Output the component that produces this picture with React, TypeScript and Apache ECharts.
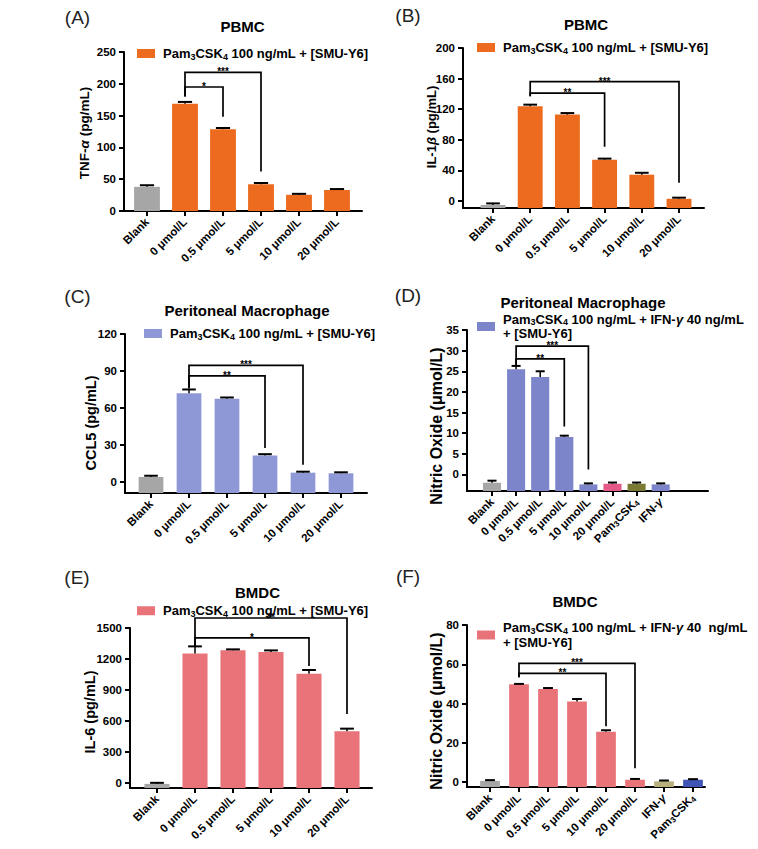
import React, { useEffect, useRef } from 'react';
import * as echarts from 'echarts';

const FONT = "'Liberation Sans', Arial, Helvetica, sans-serif";

// ---------------- data ----------------
const categoriesA = ['Blank', '0 μmol/L', '0.5 μmol/L', '5 μmol/L', '10 μmol/L', '20 μmol/L'];
const tnfAlpha = [38, 168.5, 128.5, 42, 25.5, 33];
const tnfAlphaSem = [2.5, 3, 2, 2, 1.5, 1.5];
const yTicksA = [0, 50, 100, 150, 200, 250];
// [fromIndex, toIndex, topValue, leftEndValue, rightEndValue]
const bracketsA = [[1, 3, 218, 180, 62], [1, 2, 195, 180, 148]];
const bracketLabelsA = ['***', '*'];

const categoriesB = ['Blank', '0 μmol/L', '0.5 μmol/L', '5 μmol/L', '10 μmol/L', '20 μmol/L'];
const il1Beta = [-5, 124, 113, 54, 34.5, 3];
const il1BetaSem = [2, 2, 2, 1.5, 2.5, 1.5];
const yTicksB = [0, 40, 80, 120, 160, 200];
const bracketsB = [[1, 5, 156, 137, 24], [1, 3, 141, 137, 71]];
const bracketLabelsB = ['***', '**'];

const categoriesC = ['Blank', '0 μmol/L', '0.5 μmol/L', '5 μmol/L', '10 μmol/L', '20 μmol/L'];
const ccl5 = [4, 72, 67.5, 21.5, 7.5, 7];
const ccl5Sem = [1, 3, 1, 1, 0.8, 0.8];
const yTicksC = [0, 30, 60, 90, 120];
const bracketsC = [[1, 4, 94.5, 76, 14], [1, 3, 86, 76, 27.5]];
const bracketLabelsC = ['***', '**'];

const categoriesD = ['Blank', '0 μmol/L', '0.5 μmol/L', '5 μmol/L', '10 μmol/L', '20 μmol/L', 'Pam3CSK4', 'IFN-γ'];
const nitricOxideMacrophage = [-2, 25.5, 23.6, 9.1, -2.4, -2.25, -2.25, -2.4];
const nitricOxideMacrophageSem = [0.5, 0.8, 1.4, 0.3, 0.25, 0.3, 0.3, 0.25];
const yTicksD = [0, 5, 10, 15, 20, 25, 30, 35];
const bracketsD = [[1, 4, 31.1, 26.1, 1.2], [1, 3, 28, 26.1, 11.6]];
const bracketLabelsD = ['***', '**'];

const categoriesE = ['Blank', '0 μmol/L', '0.5 μmol/L', '5 μmol/L', '10 μmol/L', '20 μmol/L'];
const il6 = [-10, 1252, 1285, 1268, 1058, 500];
const il6Sem = [10, 70, 8, 15, 35, 25];
const yTicksE = [0, 300, 600, 900, 1200, 1500];
const bracketsE = [[1, 5, 1597, 1317, 668], [1, 4, 1404, 1317, 1133]];
const bracketLabelsE = ['**', '*'];

const categoriesF = ['Blank', '0 μmol/L', '0.5 μmol/L', '5 μmol/L', '10 μmol/L', '20 μmol/L', 'IFN-γ', 'Pam3CSK4'];
const nitricOxideBmdc = [0.6, 49.8, 47.4, 41, 25.6, 1.2, 0.4, 1.2];
const nitricOxideBmdcSem = [0.4, 0.2, 0.5, 1.3, 0.8, 0.4, 0.4, 0.3];
const yTicksF = [0, 20, 40, 60, 80];
const bracketsF = [[1, 5, 60.5, 53.4, 7], [1, 4, 55.4, 53.4, 28.4]];
const bracketLabelsF = ['***', '**'];

// ---------------- styles / layout ----------------
const GRAY = '#a6a6a6';
const ORANGE = '#ec6b1f';
const LIGHTBLUE = '#8e98d6';
const BLUE = '#7d85ca';
const PINK = '#e4588a';
const OLIVE = '#7a7a35';
const RED = '#e8747a';
const KHAKI = '#b8b07c';
const DEEPBLUE = '#3f55b5';

const LEGEND_SHORT = 'Pam{s|3}CSK{s|4} 100 ng/mL + [SMU-Y6]';

const PANELS = [
  {
    id: 'A', label: '(A)', labelPos: [77.5, 17.5], title: 'PBMC', titlePos: [242.5, 26.5],
    yName: 'TNF-{i|α} (pg/mL)', yNamePos: [84, 133], yNameSize: 13.5,
    cats: categoriesA, values: tnfAlpha, sem: tnfAlphaSem, yTicks: yTicksA, yMin: 0,
    brackets: bracketsA, bracketLabels: bracketLabelsA,
    left: 124, right: 362, top: 52, bottom: 211, first: 147, step: 38, barFrac: 0.68, capFrac: 0.55,
    colors: [GRAY, ORANGE, ORANGE, ORANGE, ORANGE, ORANGE], legendColor: ORANGE,
    legendText: LEGEND_SHORT, legendPos: [137, 45.5],
  },
  {
    id: 'B', label: '(B)', labelPos: [408, 15], title: 'PBMC', titlePos: [586, 24],
    yName: 'IL-1{i|β} (pg/mL)', yNamePos: [431, 127], yNameSize: 13,
    cats: categoriesB, values: il1Beta, sem: il1BetaSem, yTicks: yTicksB, yMin: -9,
    brackets: bracketsB, bracketLabels: bracketLabelsB,
    left: 463, right: 704, top: 48, bottom: 208, first: 493, step: 37.2, barFrac: 0.67, capFrac: 0.55,
    colors: [GRAY, ORANGE, ORANGE, ORANGE, ORANGE, ORANGE], legendColor: ORANGE,
    legendText: LEGEND_SHORT, legendPos: [477, 39.5],
  },
  {
    id: 'C', label: '(C)', labelPos: [77.5, 296.5], title: 'Peritoneal Macrophage', titlePos: [247, 310],
    yName: 'CCL5 (pg/mL)', yNamePos: [91, 423], yNameSize: 14.5,
    cats: categoriesC, values: ccl5, sem: ccl5Sem, yTicks: yTicksC, yMin: -9,
    brackets: bracketsC, bracketLabels: bracketLabelsC,
    left: 125, right: 367, top: 334, bottom: 493, first: 151, step: 38, barFrac: 0.65, capFrac: 0.55,
    colors: [GRAY, LIGHTBLUE, LIGHTBLUE, LIGHTBLUE, LIGHTBLUE, LIGHTBLUE], legendColor: LIGHTBLUE,
    legendText: LEGEND_SHORT, legendPos: [144, 325.5],
  },
  {
    id: 'D', label: '(D)', labelPos: [408, 295], title: 'Peritoneal Macrophage', titlePos: [583, 302.5],
    yName: 'Nitric Oxide (μmol/L)', yNamePos: [436, 426], yNameSize: 16,
    cats: categoriesD, values: nitricOxideMacrophage, sem: nitricOxideMacrophageSem, yTicks: yTicksD, yMin: -4,
    brackets: bracketsD, bracketLabels: bracketLabelsD,
    left: 467, right: 708, top: 330, bottom: 491, first: 492, step: 24.1, barFrac: 0.75, capFrac: 0.5,
    colors: [GRAY, BLUE, BLUE, BLUE, BLUE, PINK, OLIVE, BLUE], legendColor: BLUE,
    legendText: 'Pam{s|3}CSK{s|4} 100 ng/mL + IFN-{g|γ} 40 ng/mL\n+ [SMU-Y6]', legendPos: [477, 312.5], legendLine: 14,
  },
  {
    id: 'E', label: '(E)', labelPos: [77, 577], title: 'BMDC', titlePos: [257.5, 592.5],
    yName: 'IL-6 (pg/mL)', yNamePos: [90, 712], yNameSize: 14.5,
    cats: categoriesE, values: il6, sem: il6Sem, yTicks: yTicksE, yMin: -50,
    brackets: bracketsE, bracketLabels: bracketLabelsE,
    left: 130, right: 372, top: 628, bottom: 788, first: 157, step: 38, barFrac: 0.66, capFrac: 0.55,
    colors: [GRAY, RED, RED, RED, RED, RED], legendColor: RED,
    legendText: LEGEND_SHORT, legendPos: [137, 603.5], legendLine: 14.5,
  },
  {
    id: 'F', label: '(F)', labelPos: [408, 576], title: 'BMDC', titlePos: [575, 601.5],
    yName: 'Nitric Oxide (μmol/L)', yNamePos: [436, 711], yNameSize: 16,
    cats: categoriesF, values: nitricOxideBmdc, sem: nitricOxideBmdcSem, yTicks: yTicksF, yMin: -2.5,
    brackets: bracketsF, bracketLabels: bracketLabelsF,
    left: 467, right: 705, top: 625, bottom: 787, first: 490, step: 29, barFrac: 0.68, capFrac: 0.5,
    colors: [GRAY, RED, RED, RED, RED, RED, KHAKI, DEEPBLUE], legendColor: RED,
    legendText: 'Pam{s|3}CSK{s|4} 100 ng/mL + IFN-{g|γ} 40  ng/mL\n+ [SMU-Y6]', legendPos: [477, 620.5], legendLine: 14.5,
  },
];

function catLabel(c: string): string {
  if (c === 'Pam3CSK4') return 'Pam{s|3}CSK{s|4}';
  if (c === 'IFN-γ') return 'IFN-{g|γ}';
  return c;
}

function textEl(text: string, x: number, y: number, size: number, weight: string, extra: any = {}, elExtra: any = {}) {
  return {
    type: 'text', x, y, silent: true, ...elExtra,
    style: {
      text, fontSize: size, fontWeight: weight, fontFamily: FONT, fill: '#000',
      align: 'center', verticalAlign: 'middle', textAlign: 'center', textVerticalAlign: 'middle',
      ...extra,
    },
  };
}

function buildOption() {
  const grid: any[] = [];
  const xAxis: any[] = [];
  const yAxis: any[] = [];
  const series: any[] = [];
  const legend: any[] = [];
  const elements: any[] = [];

  PANELS.forEach((p: any, i) => {
    grid.push({ left: p.left, top: p.top, width: p.right - p.left, height: p.bottom - p.top, containLabel: false });
    const idx = p.cats.map((_: string, j: number) => j);
    xAxis.push({
      type: 'value', gridIndex: i,
      min: (p.left - p.first) / p.step, max: (p.right - p.first) / p.step,
      splitLine: { show: false },
      axisLine: { show: true, onZero: false, lineStyle: { color: '#000', width: 2 } },
      axisTick: { show: true, customValues: idx, length: 5, lineStyle: { color: '#000', width: 2 } },
      axisLabel: {
        customValues: idx, rotate: 45, margin: 9,
        fontSize: 11.5, fontWeight: 'bold', fontFamily: FONT, color: '#000', lineHeight: 14,
        formatter: (v: number) => catLabel(p.cats[Math.round(v)] || ''),
        rich: {
          s: { fontSize: 8, fontWeight: 'bold', fontFamily: FONT, color: '#000', verticalAlign: 'bottom', lineHeight: 9 },
          g: { fontSize: 11.5, fontWeight: 'bold', fontStyle: 'italic', fontFamily: FONT, color: '#000', lineHeight: 14 },
        },
      },
    });
    yAxis.push({
      type: 'value', gridIndex: i, min: p.yMin, max: p.yTicks[p.yTicks.length - 1],
      splitLine: { show: false },
      axisLine: { show: true, onZero: false, lineStyle: { color: '#000', width: 2 } },
      axisTick: { show: true, customValues: p.yTicks, length: 5, lineStyle: { color: '#000', width: 2 } },
      axisLabel: {
        customValues: p.yTicks, margin: 8,
        fontSize: 11.5, fontWeight: 'bold', fontFamily: FONT, color: '#000',
        formatter: (v: number) => String(v),
      },
    });

    series.push({
      type: 'custom', name: p.id, xAxisIndex: i, yAxisIndex: i, clip: false,
      itemStyle: { color: p.legendColor },
      encode: { x: 0, y: 1 },
      data: p.values.map((v: number, j: number) => [j, v, p.sem[j]]),
      renderItem: (params: any, api: any) => {
        const j = api.value(0) as number;
        const v = api.value(1) as number;
        const e = api.value(2) as number;
        const top = api.coord([j, v]);
        const base = api.coord([j, p.yMin]);
        const err = api.coord([j, v + e]);
        const unit = api.size([1, 0])[0];
        const w = unit * p.barFrac;
        const cw = w * p.capFrac;
        const cx = top[0];
        return {
          type: 'group',
          children: [
            { type: 'rect', shape: { x: cx - w / 2, y: Math.min(top[1], base[1]), width: w, height: Math.abs(base[1] - top[1]) }, style: { fill: p.colors[j] } },
            { type: 'line', shape: { x1: cx, y1: top[1], x2: cx, y2: err[1] }, style: { stroke: '#000', lineWidth: 1.5 } },
            { type: 'line', shape: { x1: cx - cw / 2, y1: err[1], x2: cx + cw / 2, y2: err[1] }, style: { stroke: '#000', lineWidth: 2 } },
          ],
        };
      },
    });

    series.push({
      type: 'custom', name: p.id + ' significance', xAxisIndex: i, yAxisIndex: i, clip: false, silent: true,
      encode: { x: 0, y: 2 },
      data: p.brackets,
      renderItem: (params: any, api: any) => {
        const a = api.value(0), b = api.value(1), t = api.value(2), le = api.value(3), re = api.value(4);
        const p1 = api.coord([a, le]);
        const p2 = api.coord([a, t]);
        const p3 = api.coord([b, t]);
        const p4 = api.coord([b, re]);
        return {
          type: 'group',
          children: [
            { type: 'polyline', shape: { points: [p1, p2, p3, p4] }, style: { stroke: '#000', lineWidth: 1.7, fill: 'none' } },
            {
              type: 'text', x: (p2[0] + p3[0]) / 2, y: p2[1] - 0.5,
              style: {
                text: p.bracketLabels[params.dataIndex], fontSize: 10, fontWeight: 'bold', fontFamily: FONT, fill: '#000',
                align: 'center', verticalAlign: 'middle', textAlign: 'center', textVerticalAlign: 'middle',
              },
            },
          ],
        };
      },
    });

    const lh = p.legendLine || 16;
    legend.push({
      data: [p.id], left: p.legendPos[0], top: p.legendPos[1], padding: 0,
      icon: 'rect', itemWidth: 18, itemHeight: 9, selectedMode: false,
      formatter: () => p.legendText,
      textStyle: {
        fontSize: 13, fontWeight: 'bold', fontFamily: FONT, color: '#000', lineHeight: lh, padding: [0, 0, 0, 3],
        rich: {
          s: { fontSize: 9, fontWeight: 'bold', fontFamily: FONT, color: '#000', verticalAlign: 'bottom', lineHeight: 10 },
          g: { fontSize: 13, fontWeight: 'bold', fontStyle: 'italic', fontFamily: FONT, color: '#000', lineHeight: lh },
        },
      },
    });

    elements.push(textEl(p.label, p.labelPos[0], p.labelPos[1], 19, 'normal', { fill: '#222' }));
    elements.push(textEl(p.title, p.titlePos[0], p.titlePos[1], 15, 'bold'));
    elements.push(textEl(p.yName, p.yNamePos[0], p.yNamePos[1], p.yNameSize, 'bold', {
      rich: {
        i: { fontSize: p.yNameSize, fontWeight: 'bold', fontStyle: 'italic', fontFamily: FONT, fill: '#000' },
      },
    }, { rotation: Math.PI / 2 }));
  });

  return {
    animation: false,
    backgroundColor: '#ffffff',
    grid, xAxis, yAxis, series, legend,
    graphic: { elements },
  };
}

export default function App() {
  const ref = useRef<HTMLDivElement>(null);
  useEffect(() => {
    if (!ref.current) return;
    const chart = echarts.init(ref.current, undefined, { renderer: 'svg' });
    chart.setOption(buildOption() as any);
    return () => chart.dispose();
  }, []);
  return <div ref={ref} style={{ position: 'absolute', left: 0, top: 0, width: 758, height: 849, background: '#fff' }} />;
}
